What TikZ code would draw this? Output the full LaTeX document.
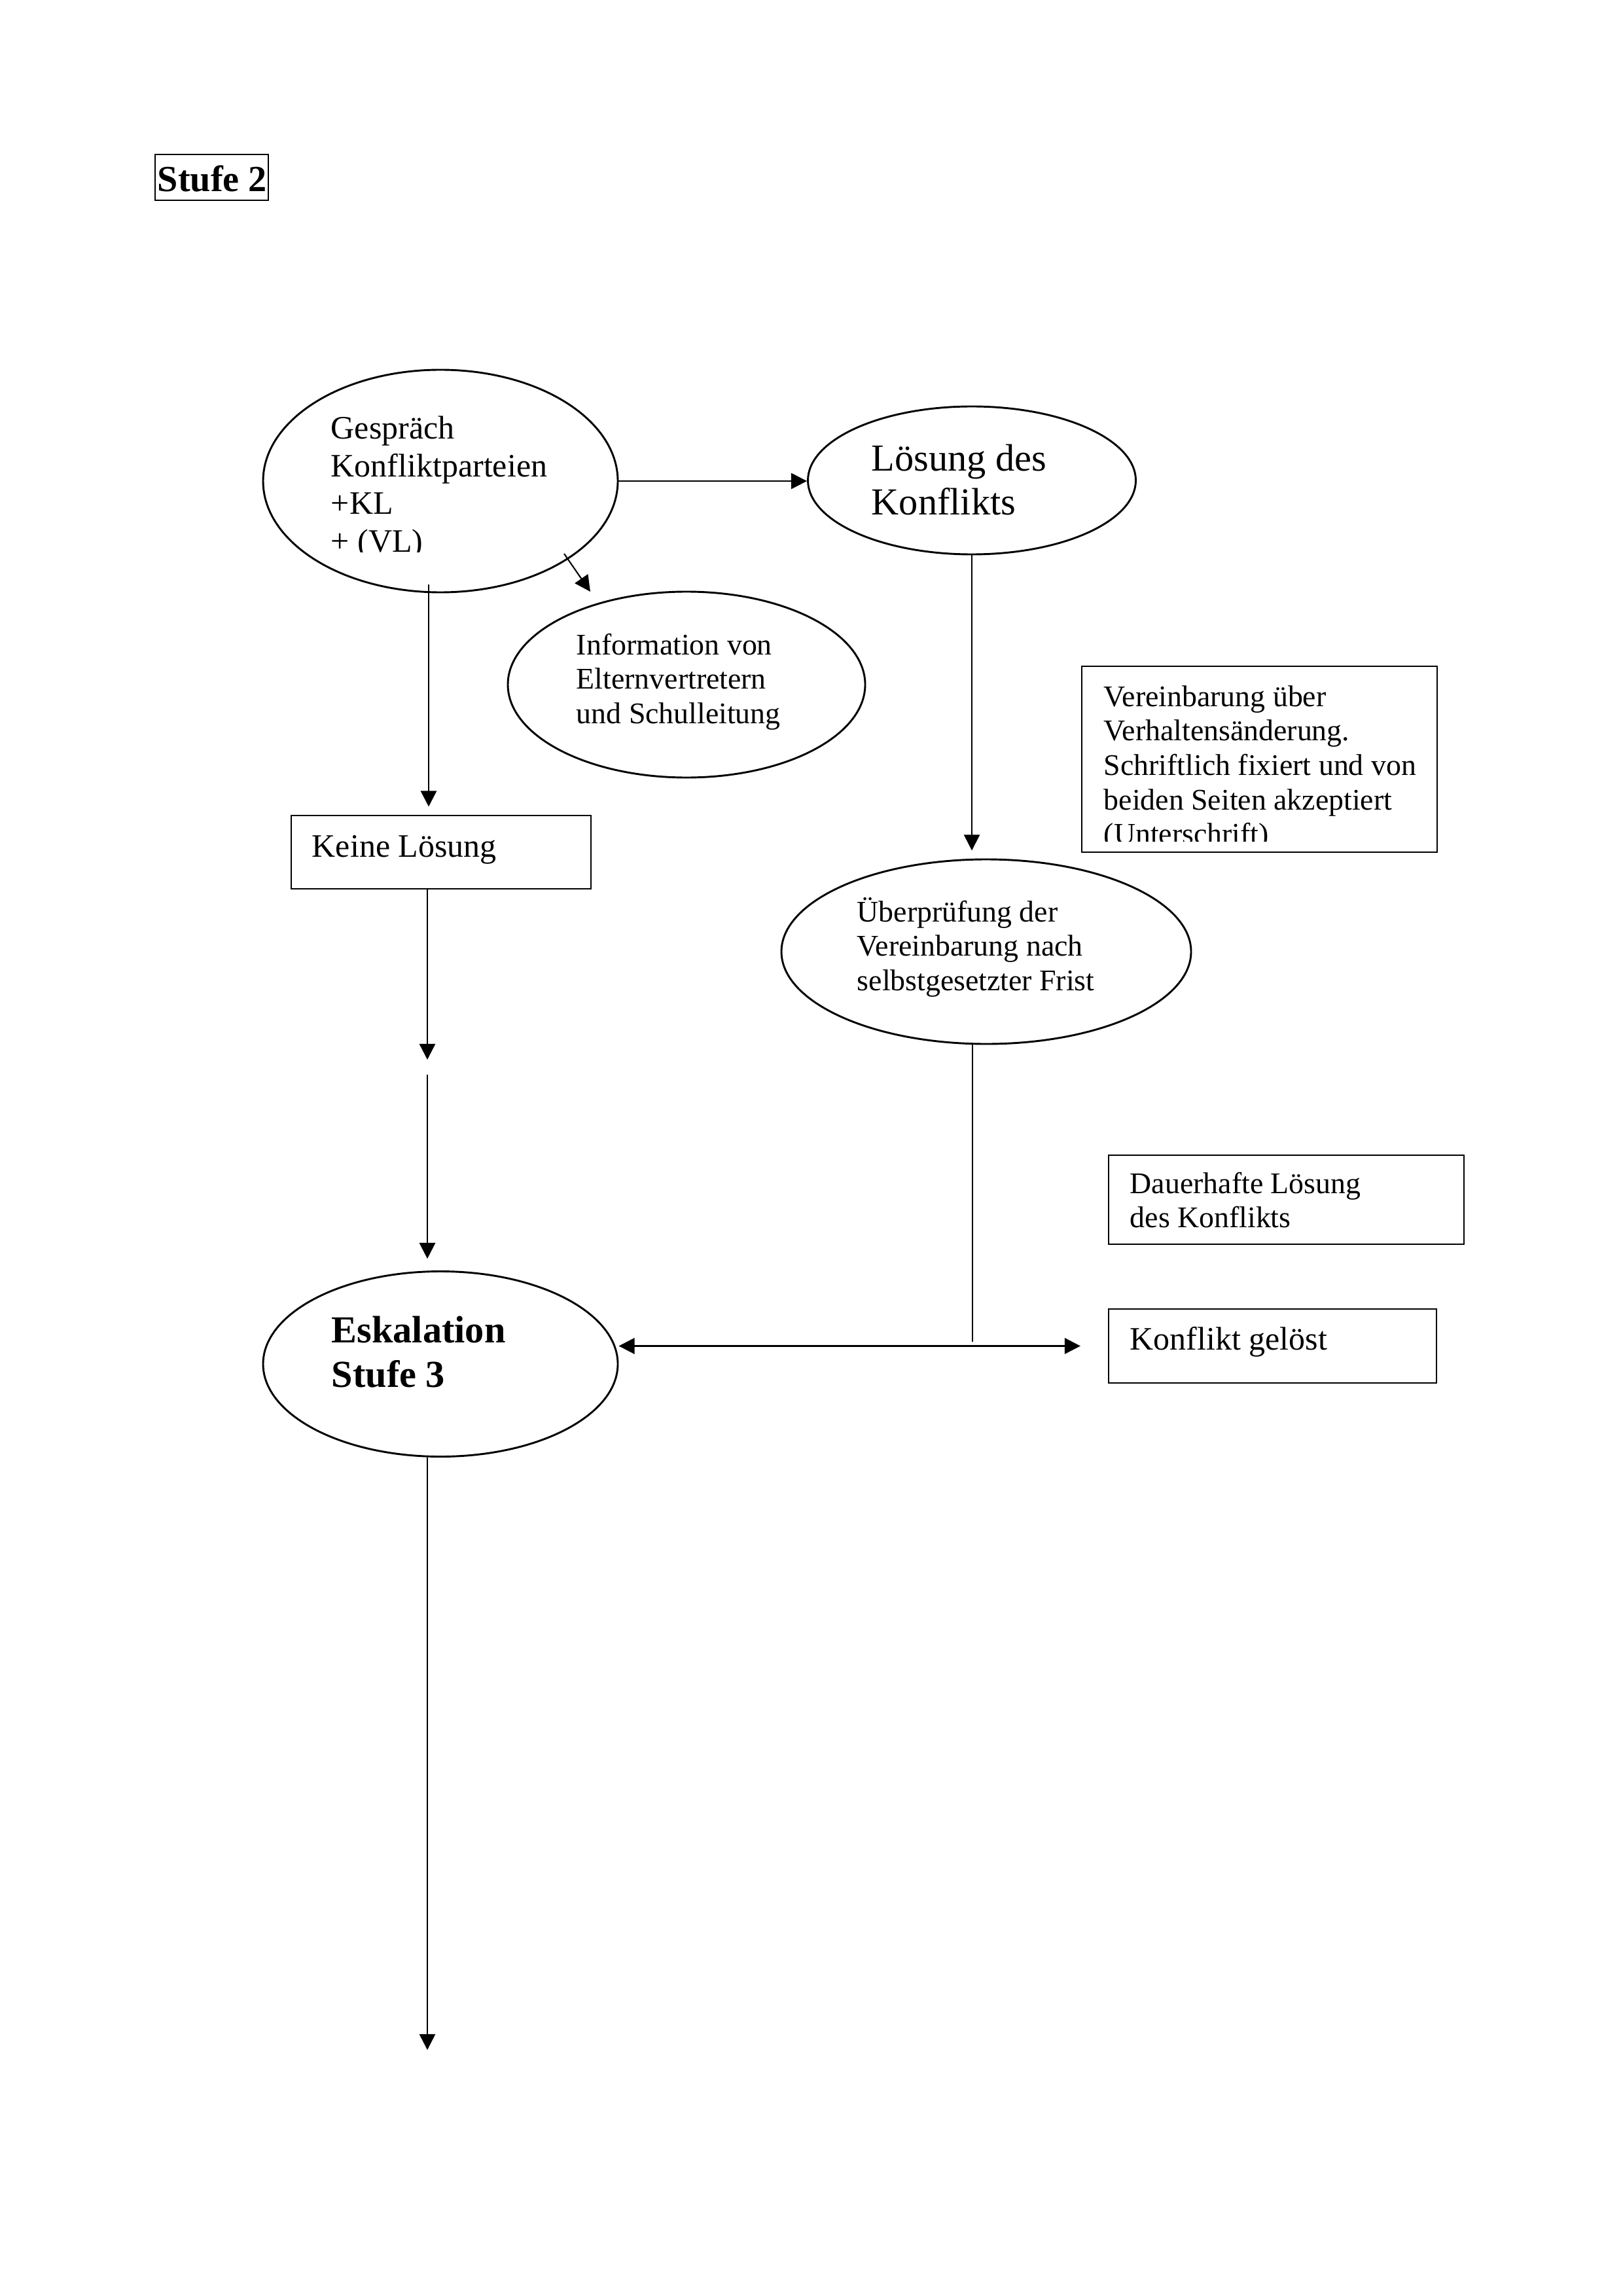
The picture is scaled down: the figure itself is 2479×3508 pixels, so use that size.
\documentclass[tikz,border=0pt]{standalone}
\usepackage{fontspec}
\setmainfont{Liberation Serif}
\usetikzlibrary{arrows.meta,shapes.geometric}
\def\px{*0.2401pt}
\begin{document}
\begin{tikzpicture}[x=0.2401pt,y=-0.2401pt,
  ell/.style={ellipse,draw,line width=0.7pt,inner sep=0pt},
  boxn/.style={rectangle,draw,line width=0.7pt,inner sep=0pt},
  txt/.style={anchor=base west,inner sep=0pt,align=left},
  t11/.style={txt,font=\fontsize{11}{12.65}\selectfont},
  t12/.style={txt,font=\fontsize{12}{13.8}\selectfont},
  t14/.style={txt,font=\fontsize{14}{16.1}\selectfont},
  t14b/.style={txt,font=\fontsize{14}{16.1}\selectfont\bfseries},
  arr/.style={-{Triangle[length=5.8pt,width=5.8pt]},line width=0.6pt},
  darr/.style={{Triangle[length=5.8pt,width=5.8pt]}-{Triangle[length=5.8pt,width=5.8pt]},line width=0.7pt},
  thinarr/.style={arr,line width=0.5pt},
  thinln/.style={line width=0.5pt},
]
\useasboundingbox[fill=white] (0,0) rectangle (2479,3508);

% shapes
\node[boxn,minimum width=173\px,minimum height=70\px] (S2) at (323.5,271) {};
\node[ell,minimum width=542\px,minimum height=340\px] (G) at (673,735) {};
\node[ell,minimum width=501\px,minimum height=226\px] (L) at (1485,734) {};
\node[ell,minimum width=546\px,minimum height=284\px] (I) at (1049,1046) {};
\node[boxn,minimum width=458\px,minimum height=112\px] (K) at (674,1302) {};
\node[boxn,minimum width=543\px,minimum height=284\px] (V) at (1924.5,1160) {};
\node[ell,minimum width=626\px,minimum height=282\px] (U) at (1507,1454) {};
\node[boxn,minimum width=543\px,minimum height=136\px] (D) at (1965.5,1833) {};
\node[boxn,minimum width=501\px,minimum height=113\px] (KG) at (1944.5,2056.5) {};
\node[ell,minimum width=542\px,minimum height=283\px] (E) at (673,2084) {};

% texts (anchor = baseline of the last line)
\node[txt,font=\fontsize{13.5}{15.5}\selectfont\bfseries] (S2t) at (240,293) {Stufe 2};
\begin{scope}
  \clip (400,600) rectangle (950,844);
  \node[t12] (Gt) at (505,843.4) {Gespräch\\Konfliktparteien\\+KL\\+ (VL)};
\end{scope}
\node[t14] (Lt) at (1331,787) {Lösung des\\Konflikts};
\node[t11] (It) at (880,1105.4) {Information von\\Elternvertretern\\und Schulleitung};
\node[t12] (Kt) at (476,1309) {Keine Lösung};
\begin{scope}
  \clip (1653,1018) rectangle (2196,1285);
  \node[t11] (Vt) at (1686,1289.8) {Vereinbarung über\\Verhaltensänderung.\\Schriftlich fixiert und von\\beiden Seiten akzeptiert\\(Unterschrift)};
\end{scope}
\node[t11] (Ut) at (1309,1513.4) {Überprüfung der\\Vereinbarung nach\\selbstgesetzter Frist};
\node[t11] (Dt) at (1726,1875.7) {Dauerhafte Lösung\\des Konflikts};
\node[t12] (KGt) at (1726,2062) {Konflikt gelöst};
\node[t14b] (Et) at (506,2119) {Eskalation\\Stufe 3};

% connector coordinates
\coordinate (d1) at (862,846);
\coordinate (d2) at (902,904);
\coordinate (gk) at (655,893);
\coordinate (m1) at (653,1619);
\coordinate (m2) at (653,1642);
\coordinate (j) at (1486,2050);
\coordinate (b) at (653,3132);

% connectors
\draw[arr] (G.east) -- (G.east -| L.west);
\draw[thinarr] (d1) -- (d2);
\draw[arr,shorten >=2.9pt] (gk) -- (gk |- K.north);
\draw[arr] (m1 |- K.south) -- (m1);
\draw[arr,shorten >=4.3pt] (m2) -- (m2 |- E.north);
\draw[thinarr,shorten >=2.9pt] (L.south) -- (L.south |- U.north);
\draw[thinln] (j |- U.south) -- (j);
\draw[darr,shorten >=10pt] (E.east |- KG.west) -- (KG.west);
\draw[arr] (b |- E.south) -- (b);
\end{tikzpicture}
\end{document}
